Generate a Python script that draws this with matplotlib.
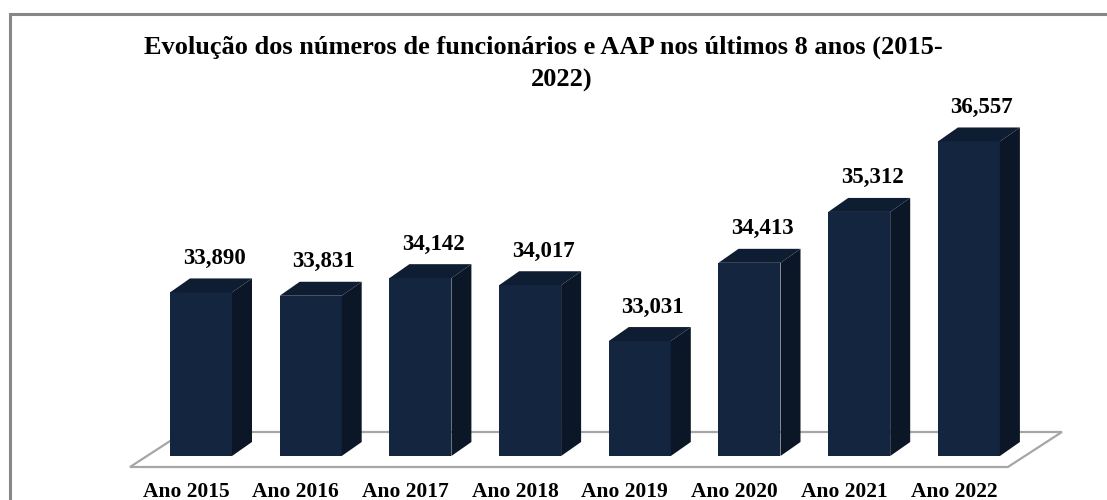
import matplotlib
matplotlib.use("Agg")
import matplotlib.pyplot as plt
from matplotlib.patches import Polygon, Rectangle

# ---------------- data ----------------
categories = ["Ano 2015", "Ano 2016", "Ano 2017", "Ano 2018",
              "Ano 2019", "Ano 2020", "Ano 2021", "Ano 2022"]
values = [33890, 33831, 34142, 34017, 33031, 34413, 35312, 36557]
title_lines = ["Evolução dos números de funcionários e AAP nos últimos 8 anos (2015-",
               "2022)"]
axis_min = 31000

# ---------------- layout (pixels) ----------------
W, H, DPI = 1107, 500, 100
x0_px = 201.0      # centre of first bar front face
step_px = 109.7    # distance between bars
base_px = 44.0     # baseline height from bottom
ppu = 0.0566       # pixels per unit value
half_w_px = 31.0
depth_dx_px, depth_dy_px = 20.0, 14.0
floor_dx_px, floor_dy_px = 54.0, 35.0

FRONT = "#14253f"
TOP = "#0f1d33"
SIDE = "#0b1727"
SERIF = ["Liberation Serif", "DejaVu Serif"]

fig = plt.figure(figsize=(W / DPI, H / DPI), dpi=DPI)
ax = fig.add_axes([0, 0, 1, 1])
ax.axis("off")
ax.set_xlim(-x0_px / step_px, (W - x0_px) / step_px)
ax.set_ylim(axis_min - base_px / ppu, axis_min + (H - base_px) / ppu)

ux = 1.0 / step_px
uy = 1.0 / ppu
hw = half_w_px * ux
ddx, ddy = depth_dx_px * ux, depth_dy_px * uy
fdx, fdy = floor_dx_px * ux, floor_dy_px * uy
n = len(values)

# floor
fy = axis_min - 11 * uy
fl = (0 - 71 * ux, fy)
fr = (n - 1 + 39 * ux, fy)
floor = Polygon([fl, fr, (fr[0] + fdx, fr[1] + fdy), (fl[0] + fdx, fl[1] + fdy)],
                closed=True, facecolor="white", edgecolor="#a6a6a6", lw=1.6, zorder=1)
ax.add_patch(floor)

xs = list(range(n))
heights = [v - axis_min for v in values]
ax.bar(xs, heights, bottom=axis_min, width=2 * hw, color=FRONT, zorder=3,
       linewidth=0)

for i, v in zip(xs, values):
    top = Polygon([(i - hw, v), (i + hw, v), (i + hw + ddx, v + ddy), (i - hw + ddx, v + ddy)],
                  closed=True, facecolor=TOP, edgecolor="none", zorder=3)
    side = Polygon([(i + hw, axis_min), (i + hw + ddx, axis_min + ddy),
                    (i + hw + ddx, v + ddy), (i + hw, v)],
                   closed=True, facecolor=SIDE, edgecolor="none", zorder=3)
    ax.add_patch(top)
    ax.add_patch(side)
    ax.text(i + 13 * ux, v + 34 * uy, f"{v:,}", ha="center", va="center",
            fontsize=16.5, fontweight="bold", family=SERIF, color="black", zorder=5)
    ax.text(i - 15 * ux, axis_min - 36 * uy, categories[i], ha="center", va="center",
            fontsize=15.5, fontweight="bold", family=SERIF, color="black", zorder=5)

# title
fig.text(543 / W, 1 - 47 / H, title_lines[0], ha="center", va="center",
         fontsize=19, fontweight="bold", family=SERIF)
fig.text(562 / W, 1 - 80 / H, title_lines[1], ha="center", va="center",
         fontsize=19, fontweight="bold", family=SERIF)

# outer border
fig.add_artist(Rectangle((9.5 / W, -0.1), 1.2, (H - 14) / H + 0.1,
                         transform=fig.transFigure, fill=False,
                         edgecolor="#878787", lw=2.2))

fig.savefig("out.png", dpi=DPI)
